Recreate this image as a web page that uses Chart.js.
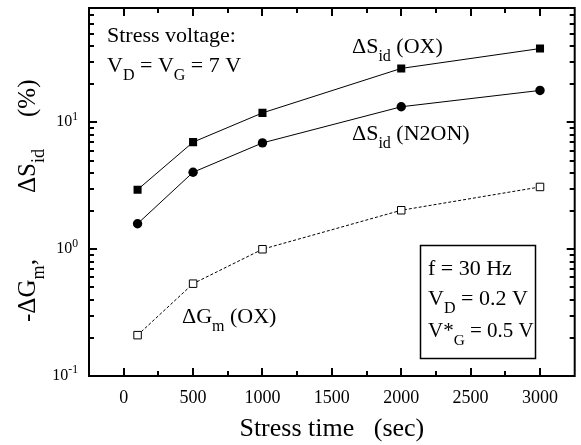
<!DOCTYPE html>
<html>
<head>
<meta charset="utf-8">
<script src="https://cdn.jsdelivr.net/npm/chart.js@4.4.1/dist/chart.umd.min.js"></script>
<style>
  body { margin: 0; background: #fff; }
  canvas { display: block; }
</style>
</head>
<body>
<canvas id="stressChart" width="581" height="445"></canvas>
<script>
const stressTimes = [100, 500, 1000, 2000, 3000];
const sidOx = [2.95, 7.0, 11.9, 26.7, 38.3];
const sidN2on = [1.59, 4.05, 6.9, 13.3, 17.9];
const gmOx = [0.21, 0.535, 1.0, 2.03, 3.1];

const xTicks = [0, 500, 1000, 1500, 2000, 2500, 3000];
const xMinorTicks = [250, 750, 1250, 1750, 2250, 2750];
const yDecades = [0.1, 1, 10];
const yExponents = ['-1', '0', '1'];

const SERIF = '"Liberation Serif", "Times New Roman", serif';

// draw text made of parts, some of them sub/superscript
function drawRich(c, parts, x, y, size) {
  let cx = x;
  parts.forEach(p => {
    const s = p.sub || p.sup ? size * 0.73 : size;
    c.font = s + 'px ' + SERIF;
    let dy = 0;
    if (p.sub) dy = size * 0.36;
    if (p.sup) dy = -size * 0.42;
    c.fillText(p.t, cx, y + dy);
    cx += c.measureText(p.t).width;
  });
  return cx - x;
}
function richWidth(c, parts, size) {
  let w = 0;
  parts.forEach(p => {
    const s = p.sub || p.sup ? size * 0.73 : size;
    c.font = s + 'px ' + SERIF;
    w += c.measureText(p.t).width;
  });
  return w;
}

const framePlugin = {
  id: 'frameTicks',
  afterDraw(chart) {
    const c = chart.ctx;
    const ca = chart.chartArea;
    const xs = chart.scales.x, ys = chart.scales.y;
    c.save();
    c.setLineDash([]);
    c.strokeStyle = '#000';
    c.fillStyle = '#000';

    // frame
    c.lineWidth = 2;
    c.strokeRect(ca.left, ca.top, ca.right - ca.left, ca.bottom - ca.top);

    // x ticks, bottom and top, pointing inward
    xTicks.concat(xMinorTicks).forEach(v => {
      const len = v % 500 === 0 ? 8 : 5;
      const px = Math.round(xs.getPixelForValue(v));
      c.fillRect(px - 1, ca.bottom - len, 2, len);
      c.fillRect(px - 1, ca.top, 2, len);
    });

    // y ticks, left and right, pointing inward
    yDecades.forEach(d => {
      for (let m = 1; m <= 9; m++) {
        const v = d * m;
        if (v >= ys.max || (d === 0.1 && m === 1)) continue;
        const py = Math.round(ys.getPixelForValue(v));
        const len = m === 1 ? 8 : 5;
        c.fillRect(ca.left, py - 1, len, 2);
        c.fillRect(ca.right - len, py - 1, len, 2);
      }
    });

    // y tick labels 10^n
    c.textBaseline = 'alphabetic';
    c.textAlign = 'left';
    yDecades.forEach((d, i) => {
      const py = ys.getPixelForValue(d);
      const parts = [{ t: '10' }, { t: yExponents[i], sup: true }];
      const w = richWidth(c, parts, 16);
      drawRich(c, parts, ca.left - 11 - w, py + 4, 16);
    });

    // y axis title, rotated, in three groups
    c.save();
    c.translate(35, 0);
    c.rotate(-Math.PI / 2);
    const ty = 25;
    drawRich(c, [{ t: '-\u0394G' }, { t: 'm', sub: true }, { t: ',' }], -(ca.bottom - 54), 0, ty);
    drawRich(c, [{ t: '\u0394S' }, { t: 'id', sub: true }], -(ca.bottom - 183), 0, ty);
    drawRich(c, [{ t: '(%)' }], -(ca.bottom - 259), 0, ty);
    c.restore();

    // x axis title
    c.font = '26px ' + SERIF;
    c.textAlign = 'center';
    c.fillText('Stress time   (sec)', (ca.left + ca.right) / 2, 436);
    c.textAlign = 'left';

    // annotations
    const fs = 22;
    drawRich(c, [{ t: 'Stress voltage:' }], ca.left + 18, ca.top + 34, fs);
    drawRich(c, [{ t: 'V' }, { t: 'D', sub: true }, { t: ' = V' }, { t: 'G', sub: true }, { t: ' = 7 V' }],
      ca.left + 18, ca.top + 64, fs);
    drawRich(c, [{ t: '\u0394S' }, { t: 'id', sub: true }, { t: ' (OX)' }], ca.left + 263, ca.top + 45, fs);
    drawRich(c, [{ t: '\u0394S' }, { t: 'id', sub: true }, { t: ' (N2ON)' }], ca.left + 263, ca.top + 132, fs);
    drawRich(c, [{ t: '\u0394G' }, { t: 'm', sub: true }, { t: ' (OX)' }], ca.left + 93, ca.top + 315, fs);

    // parameter box
    c.lineWidth = 1.5;
    c.strokeRect(ca.left + 331.5, ca.top + 237.5, 115, 113);
    drawRich(c, [{ t: 'f = 30 Hz' }], ca.left + 339, ca.top + 267, fs);
    drawRich(c, [{ t: 'V' }, { t: 'D', sub: true }, { t: ' = 0.2 V' }], ca.left + 339, ca.top + 297, fs);
    drawRich(c, [{ t: 'V*' }, { t: 'G', sub: true }, { t: ' = 0.5 V' }], ca.left + 339, ca.top + 329, 21);

    c.restore();
  }
};

const ctx = document.getElementById('stressChart').getContext('2d');
const stressChart = new Chart(ctx, {
  type: 'line',
  data: {
    datasets: [
      {
        label: 'dSid OX',
        data: stressTimes.map((t, i) => ({ x: t, y: sidOx[i] })),
        borderColor: '#000',
        backgroundColor: '#000',
        borderWidth: 1,
        pointStyle: 'rect',
        pointRadius: 5.7,
        pointBorderWidth: 0
      },
      {
        label: 'dSid N2ON',
        data: stressTimes.map((t, i) => ({ x: t, y: sidN2on[i] })),
        borderColor: '#000',
        backgroundColor: '#000',
        borderWidth: 1,
        pointStyle: 'circle',
        pointRadius: 4.7,
        pointBorderWidth: 0
      },
      {
        label: 'dGm OX',
        data: stressTimes.map((t, i) => ({ x: t, y: gmOx[i] })),
        borderColor: '#000',
        backgroundColor: '#fff',
        borderWidth: 1,
        borderDash: [3, 2],
        pointStyle: 'rect',
        pointRadius: 5.3,
        pointBorderWidth: 1
      }
    ]
  },
  options: {
    responsive: false,
    animation: false,
    layout: { padding: { left: 0, top: 8, right: 2, bottom: 0 } },
    plugins: {
      legend: { display: false },
      tooltip: { enabled: false }
    },
    scales: {
      x: {
        type: 'linear',
        min: -250,
        max: 3250,
        grid: { display: false, drawTicks: false },
        border: { display: false },
        afterBuildTicks: scale => { scale.ticks = xTicks.map(v => ({ value: v })); },
        afterFit: scale => { scale.height = 69; },
        ticks: {
          color: '#000',
          padding: 11,
          maxRotation: 0,
          font: { family: SERIF, size: 18 },
          callback: v => String(v)
        }
      },
      y: {
        type: 'logarithmic',
        min: 0.1,
        max: 80,
        grid: { display: false, drawTicks: false },
        border: { display: false },
        ticks: { display: false },
        afterFit: scale => { scale.width = 89; }
      }
    }
  },
  plugins: [framePlugin]
});
</script>
</body>
</html>
